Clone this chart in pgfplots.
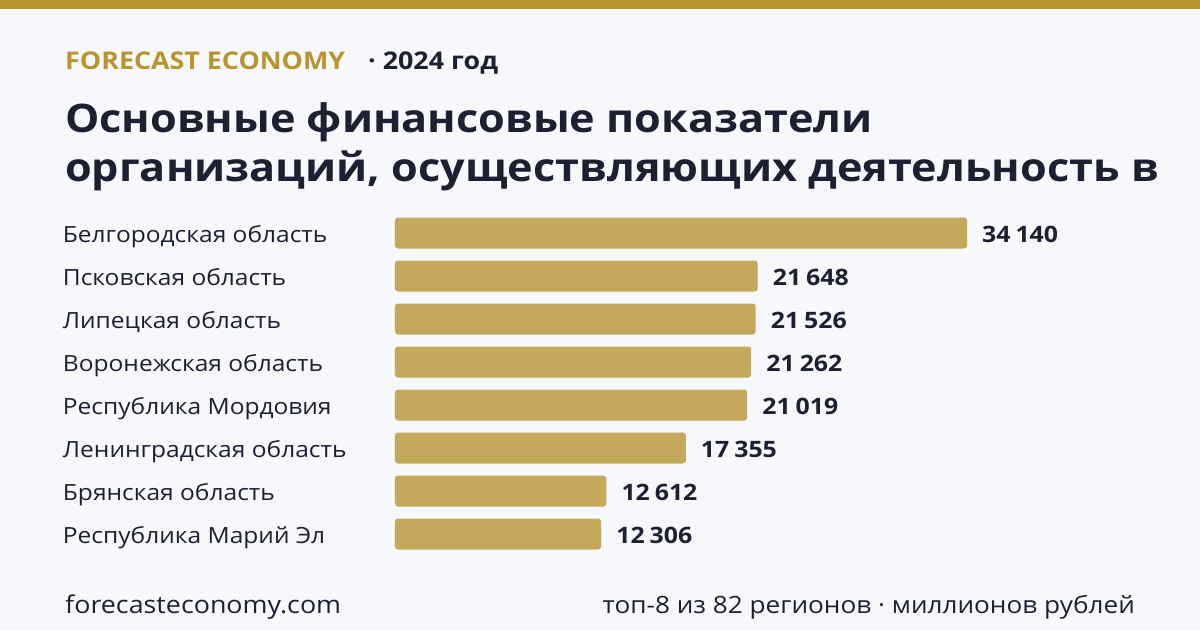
\documentclass[border=0pt]{standalone}
\usepackage{fontspec}
\setmainfont{Open Sans}[FakeStretch=1.1]
\usepackage{pgfplots}
\usepackage{pgfplotstable}
\pgfplotsset{compat=1.18}
\definecolor{gold}{HTML}{B8952E}
\definecolor{bargold}{HTML}{C4A85B}
\definecolor{ink}{HTML}{1E1F33}
\definecolor{bg}{HTML}{F7F8FC}

% Financial results by region, millions of rubles (row 0 at the top)
\pgfplotstableread{
idx value
0 34140
1 21648
2 21526
3 21262
4 21019
5 17355
6 12612
7 12306
}\regions

\begin{document}
\begin{tikzpicture}
% canvas and top band
\fill[bg] (0pt,0pt) rectangle (1200pt,630pt);
\fill[gold] (0pt,621pt) rectangle (1200pt,630pt);
% header
\node[anchor=base west, text=gold, inner sep=0, font=\bfseries\fontsize{24.4}{28}\selectfont] at (65pt,560pt) {FORECAST ECONOMY};
\node[anchor=base west, text=ink, inner sep=0, font=\bfseries\fontsize{24.4}{28}\selectfont] at (368pt,560pt) {· 2024 год};
\node[anchor=base west, text=ink, inner sep=0, font=\bfseries\fontsize{39.3}{48}\selectfont] at (65pt,497pt) {Основные финансовые показатели};
\node[anchor=base west, text=ink, inner sep=0, font=\bfseries\fontsize{39.3}{48}\selectfont] at (65pt,448pt) {организаций, осуществляющих деятельность в};
% footer
\node[anchor=base west, text=ink, inner sep=0, font=\fontsize{24.4}{28}\selectfont] at (65pt,17pt) {forecasteconomy.com};
\node[anchor=base east, text=ink, inner sep=0, font=\fontsize{23.8}{28}\selectfont] at (1135pt,17pt) {топ-8 из 82 регионов · миллионов рублей};

\begin{axis}[
  at={(395pt,74.5pt)}, anchor=south west,
  scale only axis, width=572pt, height=344pt,
  xmin=0, xmax=34140, ymin=-0.5, ymax=7.5,
  y dir=reverse,
  clip=false,
  axis line style={draw=none},
  major tick style={draw=none},
  xtick=\empty,
  ytick={0,...,7},
  yticklabels={Белгородская область, Псковская область, Липецкая область, Воронежская область, Республика Мордовия, Ленинградская область, Брянская область, Республика Марий Эл},
  yticklabel style={anchor=base west, xshift=-328pt, yshift=-9pt, inner sep=0pt, text=ink, font=\fontsize{22.3}{26}\selectfont},
  xbar, bar width=31pt,
  /pgf/number format/.cd, 1000 sep={\hspace{0.22em}}, assume math mode=true,
  /pgfplots/.cd,
  nodes near coords,
  every node near coord/.append style={anchor=base west, inner sep=0pt, xshift=15pt, yshift=-9pt, text=ink, font=\bfseries\fontsize{22.6}{26}\selectfont},
]
\addplot[fill=bargold, draw=none, rounded corners=3pt] table[x=value, y=idx] {\regions};
\end{axis}
\end{tikzpicture}
\end{document}
